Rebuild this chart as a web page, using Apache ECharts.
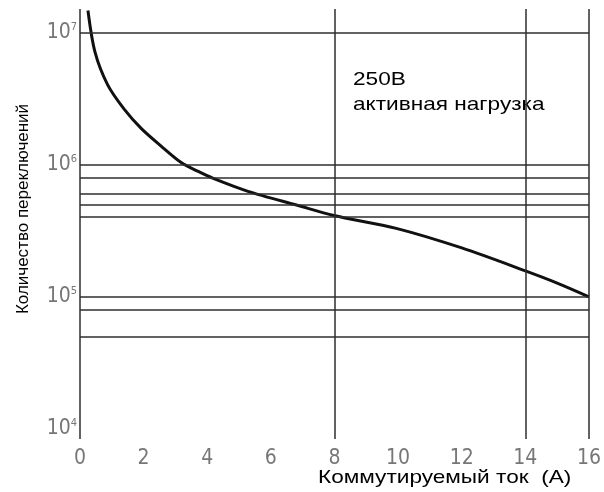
<!DOCTYPE html>
<html>
<head>
<meta charset="utf-8">
<script src="https://cdn.jsdelivr.net/npm/echarts@6/dist/echarts.min.js"></script>
<style>html,body{margin:0;padding:0;background:#fff}#c{width:604px;height:492px}</style>
</head>
<body>
<div id="c"></div>
<script>
// Data
var curveX = [0.25, 0.47, 0.87, 1.4, 1.93, 2.55, 3.17, 3.7, 4.19, 5.28, 6.83, 7.98, 9.94, 12, 14, 15, 16];
var curveY = [1.46e7, 7.1e6, 4.0e6, 2.6e6, 1.87e6, 1.38e6, 1.04e6, 8.9e5, 7.85e5, 6.27e5, 4.92e5, 4.12e5, 3.29e5, 2.34e5, 1.57e5, 1.27e5, 1e5];
var hLines = [1e7, 1e6, 8e5, 6e5, 5e5, 4e5, 1e5, 8e4, 5e4];
var vLines = [0, 8, 14, 16];
var xTicks = [0, 2, 4, 6, 8, 10, 12, 14, 16];
var yTicks = [1e4, 1e5, 1e6, 1e7];
var xName = 'Коммутируемый ток  (A)';
var yName = 'Количество переключений';
var note1 = '250В';
var note2 = 'активная нагрузка';

var chart = echarts.init(document.getElementById('c'), null, {renderer: 'canvas'});
var numFont = "'Liberation Sans Narrow', 'DejaVu Sans Condensed', sans-serif";
var txtFont = "'Liberation Sans', Arial, sans-serif";
var lineData = [];
vLines.forEach(function (v) { lineData.push({xAxis: v}); });
hLines.forEach(function (v) { lineData.push({yAxis: v}); });
var pts = curveX.map(function (x, i) { return [x, curveY[i]]; });

chart.setOption({
  animation: false,
  backgroundColor: '#fff',
  grid: {left: 80, right: 10, top: 9, bottom: 53},
  xAxis: {
    type: 'value', min: 0, max: 16, interval: 2,
    axisLine: {show: false}, axisTick: {show: false}, splitLine: {show: false},
    axisLabel: {
      margin: 9, fontSize: 21, fontFamily: numFont, color: '#777',
      formatter: function (v) { return xTicks.indexOf(v) >= 0 ? String(v) : ''; }
    }
  },
  yAxis: {
    type: 'log', logBase: 10, min: 8400, max: 1.5e7,
    axisLine: {show: false}, axisTick: {show: false}, splitLine: {show: false},
    axisLabel: {
      margin: 3,
      formatter: function (v) {
        var e = Math.log10(v);
        if (Math.abs(e - Math.round(e)) > 0.01) return '';
        var r = Math.round(e);
        if (yTicks.indexOf(Math.pow(10, r)) < 0) return '';
        return '{b|10}{s|' + r + '}';
      },
      rich: {
        b: {fontSize: 21, fontFamily: numFont, color: '#777', lineHeight: 22},
        s: {fontSize: 11, fontFamily: numFont, color: '#777', verticalAlign: 'top', lineHeight: 22}
      }
    }
  },
  series: [{
    type: 'line',
    data: pts,
    smooth: 0.3,
    showSymbol: false,
    lineStyle: {color: '#111', width: 3},
    markLine: {
      silent: true, symbol: ['none', 'none'], label: {show: false},
      lineStyle: {type: 'solid', color: '#2e2e2e', width: 1.5},
      data: lineData
    },
    z: 3
  }],
  graphic: [
    {type: 'text', x: 353, y: 70, scaleX: 1.19, style: {text: note1, font: '19px ' + txtFont, fill: '#000', verticalAlign: 'top'}},
    {type: 'text', x: 353, y: 95, scaleX: 1.19, style: {text: note2, font: '19px ' + txtFont, fill: '#000', verticalAlign: 'top'}},
    {type: 'text', x: 318, y: 468, scaleX: 1.19, style: {text: xName, font: '19px ' + txtFont, fill: '#000', verticalAlign: 'top'}},
    {type: 'text', x: 15, y: 209, rotation: Math.PI / 2,
     style: {text: yName, font: '17px ' + txtFont, fill: '#000', align: 'center', verticalAlign: 'top'}}
  ]
});
</script>
</body>
</html>
